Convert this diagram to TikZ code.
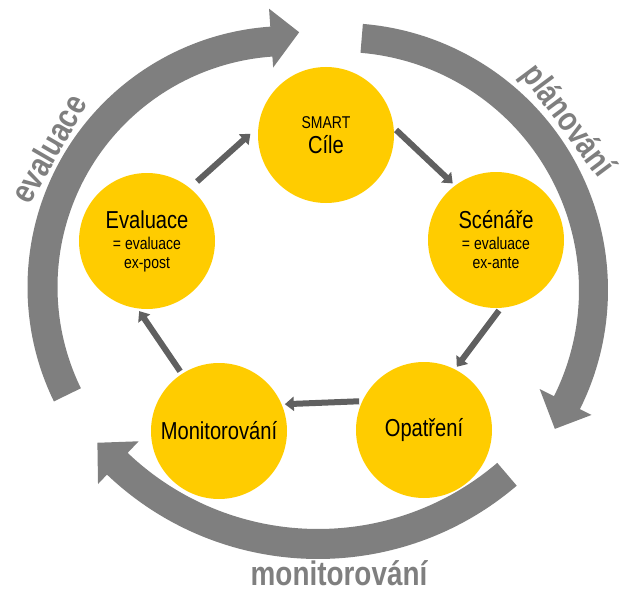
\documentclass[tikz,border=0pt]{standalone}
\usepackage{fontspec}
\newfontfamily\narrowsf{Liberation Sans}[FakeStretch=0.82]
\usetikzlibrary{arrows.meta}
\definecolor{phaseyellow}{RGB}{255,204,0}
\definecolor{ringgray}{RGB}{127,127,127}
\definecolor{linkgray}{RGB}{96,96,96}

\begin{document}
\begin{tikzpicture}[x=0.75pt,y=0.75pt,yscale=-1,xscale=1,
  phase/.style={circle,fill=phaseyellow,minimum size=102pt,inner sep=0pt,align=center,
    font=\narrowsf\fontsize{12.8}{14.2}\selectfont},
  link/.style={draw=linkgray,line width=4.5pt,-{Triangle[length=6.75pt,width=10.5pt]},
    shorten <=2.25pt,shorten >=2.25pt},
  ring/.style={fill=ringgray},
  ringlabel/.style={text=ringgray,anchor=base,inner sep=0pt,
    font=\narrowsf\bfseries\fontsize{25.5}{28}\selectfont}]
\useasboundingbox (0,0) rectangle (625,592);

%Circular arrow: planovani
\begin{scope}[shift={(341,290)}]
\fill[ring] (-85.3:267) arc[start angle=-85.3,end angle=26.5,radius=267] -- (26.5:280) -- (33:255) -- (26.5:222) -- (26.5:238) arc[start angle=26.5,end angle=-85.3,radius=238] -- cycle;
\node[ringlabel,rotate=-53.3] (lplan) at (-36.7:273) {plánování};
\end{scope}
%Circular arrow: monitorovani
\begin{scope}[shift={(318,253)}]
\fill[ring] (49.5:306) arc[start angle=49.5,end angle=133.6,radius=306] -- (133.6:319) -- (139.3:291) -- (133.6:260) -- (133.6:276) arc[start angle=133.6,end angle=49.5,radius=276] -- cycle;
\end{scope}
\node[ringlabel] (lmonit) at (339,585) {monitorování};
%Circular arrow: evaluace
\begin{scope}[shift={(288.5,287)}]
\fill[ring] (154:261) arc[start angle=154,end angle=266,radius=261] -- (266:279) -- (272.4:255) -- (266:220) -- (266:231) arc[start angle=266,end angle=154,radius=231] -- cycle;
\node[ringlabel,rotate=60] (leval) at (210:265) {evaluace};
\end{scope}

%Phases
\node[phase] (goals) at (326,135) {SMART\\[4.55pt]{\fontsize{18.4}{14.2}\selectfont Cíle}};
\node[phase] (scen) at (496,240) {{\fontsize{18.4}{14.2}\selectfont Scénáře}\\[1.55pt]= evaluace\\ex-ante};
\node[phase] (meas) at (424,430) {\fontsize{18.4}{14.2}\selectfont Opatření};
\node[phase] (monit) at (219,431) {\fontsize{18.4}{14.2}\selectfont Monitorování};
\node[phase] (evalc) at (147,241) {{\fontsize{18.4}{14.2}\selectfont Evaluace}\\[1.55pt]= evaluace\\ex-post};

%Links
\draw[link] (goals.6) -- (scen.127);
\draw[link] (scen.-86.6) -- (meas.63.8);
\draw[link] (meas.155.2) -- (monit.23.7);
\draw[link] (monit.123.5) -- (evalc.-98.5);
\draw[link,shorten <=7.2pt,shorten >=7.9pt] (evalc.51.8) -- (goals.173.4);

\end{tikzpicture}
\end{document}
